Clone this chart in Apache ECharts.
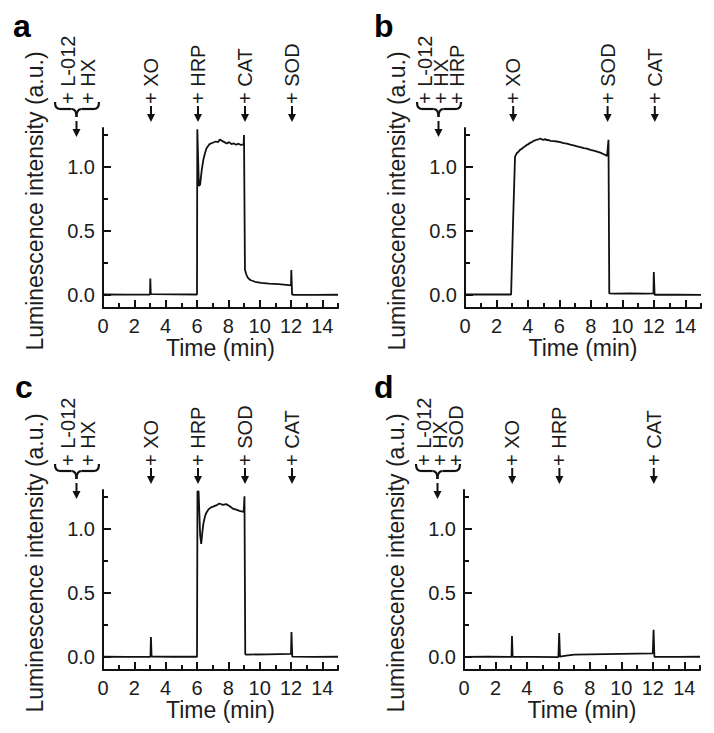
<!DOCTYPE html>
<html><head><meta charset="utf-8">
<script src="https://cdn.jsdelivr.net/npm/echarts@6/dist/echarts.min.js"></script>
<style>html,body{margin:0;padding:0;background:#fff}#c{width:714px;height:733px}</style>
</head><body><div id="c"></div>
<script>
// ---------- data ----------
const timeA = [0, 1.5, 3.0, 3.02, 3.05, 4.5, 6.0, 6.02, 6.06, 6.12, 6.2, 6.3, 6.4, 6.5, 6.6, 6.8, 7.0, 7.2, 7.35, 7.45, 7.6, 7.75, 7.9, 8.05, 8.2, 8.35, 8.5, 8.65, 8.8, 8.98, 9.0, 9.06, 9.15, 9.25, 9.4, 9.7, 10.1, 10.6, 11.2, 11.7, 12.0, 12.02, 12.07, 12.2, 13.5, 15];
const lumA  = [0.005, 0.004, 0.005, 0.13, 0.008, 0.006, 0.005, 1.29, 1.29, 0.85, 0.86, 0.97, 1.05, 1.1, 1.14, 1.175, 1.185, 1.195, 1.19, 1.21, 1.2, 1.19, 1.18, 1.19, 1.175, 1.18, 1.17, 1.178, 1.168, 1.172, 1.245, 0.2, 0.16, 0.135, 0.118, 0.104, 0.096, 0.09, 0.085, 0.08, 0.076, 0.195, 0.004, 0.003, 0.002, 0.003];

const timeB = [0, 1.5, 2.93, 3.05, 3.18, 3.29, 3.4, 3.5, 3.61, 3.72, 3.83, 3.93, 4.04, 4.14, 4.25, 4.35, 4.46, 4.57, 4.68, 4.78, 4.89, 4.99, 5.1, 5.2, 5.31, 5.42, 5.63, 5.84, 6.05, 6.27, 6.48, 6.69, 6.9, 7.12, 7.33, 7.54, 7.75, 7.97, 8.18, 8.39, 8.6, 8.82, 9.03, 9.12, 9.17, 9.5, 10.5, 11.5, 11.98, 12.0, 12.05, 13.5, 15];
const lumB  = [0.005, 0.005, 0.005, 0.55, 1.078, 1.104, 1.115, 1.13, 1.138, 1.15, 1.158, 1.169, 1.175, 1.185, 1.19, 1.2, 1.203, 1.21, 1.212, 1.218, 1.212, 1.208, 1.214, 1.205, 1.207, 1.2, 1.198, 1.195, 1.19, 1.182, 1.178, 1.17, 1.165, 1.158, 1.152, 1.143, 1.14, 1.13, 1.124, 1.117, 1.108, 1.096, 1.083, 1.208, 0.013, 0.012, 0.014, 0.012, 0.013, 0.18, 0.003, 0.003, 0.002];

const timeC = [0, 1.5, 3.03, 3.06, 3.1, 4.5, 6.0, 6.03, 6.1, 6.2, 6.27, 6.34, 6.41, 6.5, 6.58, 6.74, 6.9, 7.06, 7.22, 7.43, 7.65, 7.86, 8.07, 8.28, 8.5, 8.71, 8.98, 9.03, 9.08, 9.15, 10.5, 12.0, 12.03, 12.08, 13.5, 15];
const lumC  = [0.003, 0.002, 0.003, 0.156, 0.005, 0.003, 0.003, 1.29, 1.29, 0.95, 0.88, 0.97, 1.04, 1.09, 1.12, 1.15, 1.165, 1.172, 1.18, 1.195, 1.185, 1.19, 1.175, 1.156, 1.148, 1.138, 1.13, 1.252, 0.022, 0.02, 0.022, 0.025, 0.195, 0.004, 0.002, 0.003];

const timeD = [0, 1.5, 3.02, 3.05, 3.09, 4.5, 6.0, 6.05, 6.1, 6.5, 7.0, 8.0, 9.0, 10.0, 11.0, 12.0, 12.05, 12.1, 13.5, 15];
const lumD  = [0.002, 0.003, 0.002, 0.164, 0.003, 0.002, 0.0, 0.187, 0.004, 0.012, 0.02, 0.022, 0.024, 0.026, 0.028, 0.03, 0.213, 0.003, 0.002, 0.003];

const xTickLabels = [0, 2, 4, 6, 8, 10, 12, 14];
const xMinorTicks = [1, 3, 5, 7, 9, 11, 13, 15];
const yTickLabels = [0, 0.5, 1.0];
const yMinorTicks = [0.25, 0.75, 1.25];

const panelLetters = ['a', 'b', 'c', 'd'];
const initialA = ['L-012', 'HX'];
const initialB = ['L-012', 'HX', 'HRP'];
const initialC = ['L-012', 'HX'];
const initialD = ['L-012', 'HX', 'SOD'];
const eventTimesA = [3, 6, 9, 12];  const eventLabelsA = ['XO', 'HRP', 'CAT', 'SOD'];
const eventTimesB = [3, 9, 12];     const eventLabelsB = ['XO', 'SOD', 'CAT'];
const eventTimesC = [3, 6, 9, 12];  const eventLabelsC = ['XO', 'HRP', 'SOD', 'CAT'];
const eventTimesD = [3, 6, 12];     const eventLabelsD = ['XO', 'HRP', 'CAT'];

// ---------- layout ----------
const FONT = '"Liberation Sans", Arial, Helvetica, sans-serif';
const INK = '#111';
const TXT = '#1c1c1c';
const gridRects = [
  {left: 103, top: 128, width: 235, height: 180},
  {left: 465, top: 128, width: 236, height: 180},
  {left: 103, top: 490, width: 235, height: 180},
  {left: 464, top: 490, width: 236, height: 180}
];
const letterPos = [[13, 42], [374, 42], [15, 403], [374, 403]];

const panels = [
  {t: timeA, v: lumA, init: initialA, et: eventTimesA, el: eventLabelsA},
  {t: timeB, v: lumB, init: initialB, et: eventTimesB, el: eventLabelsB},
  {t: timeC, v: lumC, init: initialC, et: eventTimesC, el: eventLabelsC},
  {t: timeD, v: lumD, init: initialD, et: eventTimesD, el: eventLabelsD}
];

const chart = echarts.init(document.getElementById('c'), null, {renderer: 'svg', width: 714, height: 733});

const grid = [], xAxis = [], yAxis = [], series = [];
panels.forEach((p, i) => {
  grid.push(Object.assign({outerBoundsMode: 'none', containLabel: false}, gridRects[i]));
  const axLine = {show: true, onZero: false, lineStyle: {color: INK, width: 2}};
  xAxis.push({
    type: 'value', gridIndex: i, min: 0, max: 15, position: 'bottom',
    axisLine: axLine,
    axisTick: {show: true, inside: true, length: 8, customValues: xTickLabels, lineStyle: {color: INK, width: 2}},
    axisLabel: {customValues: xTickLabels, fontSize: 20, fontFamily: FONT, color: TXT, margin: 8},
    splitLine: {show: false},
    name: 'Time (min)', nameLocation: 'middle', nameGap: 24,
    nameTextStyle: {fontSize: 23, fontFamily: FONT, color: TXT}
  });
  xAxis.push({
    type: 'value', gridIndex: i, min: 0, max: 15, position: 'bottom',
    axisLine: {show: false, onZero: false},
    axisTick: {show: true, inside: true, length: 5, customValues: xMinorTicks, lineStyle: {color: INK, width: 2}},
    axisLabel: {show: false}, splitLine: {show: false}
  });
  yAxis.push({
    type: 'value', gridIndex: i, min: -0.1, max: 1.3, position: 'left',
    axisLine: axLine,
    axisTick: {show: true, inside: true, length: 8, customValues: yTickLabels, lineStyle: {color: INK, width: 2}},
    axisLabel: {customValues: yTickLabels, fontSize: 20, fontFamily: FONT, color: TXT, margin: 8,
                formatter: v => Number(v).toFixed(1)},
    splitLine: {show: false}
  });
  yAxis.push({
    type: 'value', gridIndex: i, min: -0.1, max: 1.3, position: 'left',
    axisLine: {show: false, onZero: false},
    axisTick: {show: true, inside: true, length: 5, customValues: yMinorTicks, lineStyle: {color: INK, width: 2}},
    axisLabel: {show: false}, splitLine: {show: false}
  });
  series.push({
    type: 'line', xAxisIndex: 2 * i, yAxisIndex: 2 * i,
    data: p.t.map((t, k) => [t, p.v[k]]),
    showSymbol: false, symbol: 'none',
    lineStyle: {color: INK, width: 1.8}, silent: true
  });
});

chart.setOption({animation: false, backgroundColor: '#fff', grid, xAxis, yAxis, series});

// ---------- annotations ----------
const graphic = [];
const stroke = {stroke: INK, lineWidth: 2.2, fill: null};
function arrow(x, y0, y1) {
  const head = 8;
  graphic.push({type: 'line', shape: {x1: x, y1: y0, x2: x, y2: y1 - head + 1}, style: {stroke: INK, lineWidth: 2}});
  graphic.push({type: 'polygon', shape: {points: [[x - 4, y1 - head], [x + 4, y1 - head], [x, y1]]}, style: {fill: INK}});
}
function vtext(x, y, str, size, align) {
  graphic.push({type: 'text', x: x, y: y, rotation: Math.PI / 2,
    style: {text: str, font: size + 'px ' + FONT, fill: TXT, align: align, verticalAlign: 'middle'}});
}
function quad(xa, ya, cpx, cpy, xb, yb) {
  graphic.push({type: 'bezierCurve', shape: {x1: xa, y1: ya, cpx1: cpx, cpy1: cpy, x2: xb, y2: yb}, style: stroke});
}
function seg(xa, ya, xb, yb) {
  graphic.push({type: 'line', shape: {x1: xa, y1: ya, x2: xb, y2: yb}, style: stroke});
}
panels.forEach((p, i) => {
  const g = gridRects[i];
  const T = g.top;
  // panel letter
  graphic.push({type: 'text', x: letterPos[i][0], y: letterPos[i][1],
    style: {text: panelLetters[i], font: 'bold 32px ' + FONT, fill: '#000', align: 'left', verticalAlign: 'bottom'}});
  // y axis title
  vtext(g.left - 68, T + 73, 'Luminescence intensity (a.u.)', 23, 'center');
  // event arrows
  p.et.forEach((t, k) => {
    const x = chart.convertToPixel({xAxisIndex: 2 * i}, t) + 1;
    vtext(x, T - 24, '+ ' + p.el[k], 20, 'left');
    arrow(x, T - 22, T - 6);
  });
  // initial additions with brace
  const cols = p.init.length === 2 ? [-35, -15] : [-40, -24, -8.5];
  p.init.forEach((s, k) => vtext(g.left + cols[k], T - 24, '+ ' + s, 20, 'left'));
  const x1 = g.left - 48, x2 = g.left - 4, cx = g.left - 26.5;
  const y0 = T - 26, ym = T - 19, y1 = T - 11;
  quad(x1, y0, x1, ym, x1 + 5, ym);
  seg(x1 + 5, ym, cx - 5, ym);
  quad(cx - 5, ym, cx, ym, cx, y1);
  quad(cx, y1, cx, ym, cx + 5, ym);
  seg(cx + 5, ym, x2 - 5, ym);
  quad(x2 - 5, ym, x2, ym, x2, y0);
  arrow(cx, T - 7, T + 9);
});
chart.setOption({graphic});
</script></body></html>
